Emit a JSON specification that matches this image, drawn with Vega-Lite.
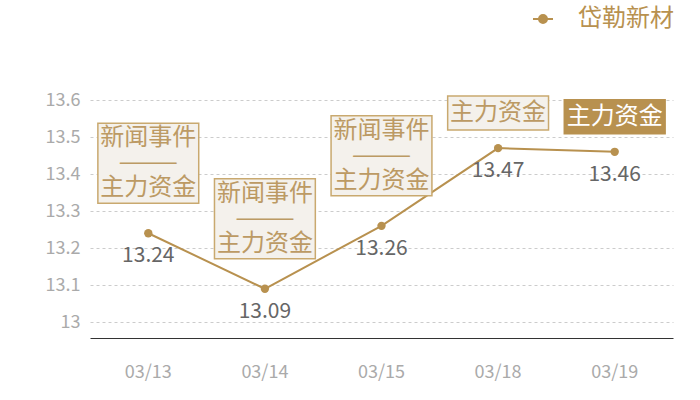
{
  "$schema": "https://vega.github.io/schema/vega-lite/v6.json",
  "width": 583,
  "height": 238,
  "autosize": {"type": "none"},
  "padding": {"left": 90, "top": 100, "right": 27, "bottom": 62},
  "background": "white",
  "config": {
    "font": "Noto Sans CJK SC",
    "view": {"stroke": null}
  },
  "data": {
    "values": [
      {"date": "03/13", "value": 13.24, "name": "岱勒新材", "kind": "double", "note": "新闻事件\n———\n主力资金"},
      {"date": "03/14", "value": 13.09, "name": "岱勒新材", "kind": "double", "note": "新闻事件\n———\n主力资金"},
      {"date": "03/15", "value": 13.26, "name": "岱勒新材", "kind": "double", "note": "新闻事件\n———\n主力资金"},
      {"date": "03/18", "value": 13.47, "name": "岱勒新材", "kind": "single", "note": "主力资金"},
      {"date": "03/19", "value": 13.46, "name": "岱勒新材", "kind": "latest", "note": "主力资金"}
    ]
  },
  "encoding": {
    "x": {
      "field": "date", "type": "ordinal",
      "scale": {"paddingInner": 0, "paddingOuter": 0},
      "axis": {
        "title": null, "labelAngle": 0, "ticks": false, "grid": false,
        "domainColor": "#333333", "domainWidth": 1,
        "labelFontSize": 18, "labelColor": "#aaaaaa", "labelPadding": 25
      }
    },
    "y": {
      "field": "value", "type": "quantitative",
      "scale": {"domain": [12.957, 13.6], "nice": false, "zero": false},
      "axis": {
        "title": null, "values": [13, 13.1, 13.2, 13.3, 13.4, 13.5, 13.6],
        "format": "~g", "domain": false, "ticks": false,
        "grid": true, "gridDash": [3, 3], "gridColor": "#cccccc",
        "labelFontSize": 18, "labelColor": "#aaaaaa", "labelPadding": 10
      }
    }
  },
  "layer": [
    {
      "mark": {"type": "line", "color": "#b8914f", "strokeWidth": 2},
      "encoding": {
        "color": {
          "field": "name", "type": "nominal",
          "scale": {"range": ["#b8914f"]},
          "legend": {
            "title": null, "orient": "none", "legendX": 441, "legendY": -93,
            "symbolType": "M-1,0H-0.4M0.4,0H1M-0.4,0A0.4,0.4 0 1,1 0.4,0A0.4,0.4 0 1,1 -0.4,0Z",
            "symbolSize": 400, "symbolStrokeWidth": 2, "symbolFillColor": "#b8914f", "symbolStrokeColor": "#b8914f",
            "labelFontSize": 24, "labelColor": "#b8914f", "labelOffset": 23, "labelLimit": 200
          }
        }
      }
    },
    {
      "mark": {"type": "point", "filled": true, "size": 70, "color": "#b8914f", "opacity": 1}
    },
    {
      "mark": {"type": "text", "dy": 23, "baseline": "middle", "fontSize": 21, "color": "#666666"},
      "encoding": {"text": {"field": "value", "type": "quantitative", "format": ".2f"}}
    },
    {
      "transform": [{"filter": "datum.kind === 'double'"}],
      "mark": {"type": "rect", "width": {"band": 0.865}, "yOffset": -30, "y2Offset": -110, "fill": "#f4f1ec", "stroke": "#c9a96f", "strokeWidth": 1.5},
      "encoding": {"y2": {"field": "value"}}
    },
    {
      "transform": [{"filter": "datum.kind === 'single'"}],
      "mark": {"type": "rect", "width": {"band": 0.865}, "yOffset": -18, "y2Offset": -52, "fill": "#f4f1ec", "stroke": "#c9a96f", "strokeWidth": 1.5},
      "encoding": {"y2": {"field": "value"}}
    },
    {
      "transform": [{"filter": "datum.kind === 'latest'"}],
      "mark": {"type": "rect", "width": {"band": 0.865}, "yOffset": -18, "y2Offset": -52, "fill": "#b8914f", "stroke": "#b8914f", "strokeWidth": 1.5},
      "encoding": {"y2": {"field": "value"}}
    },
    {
      "transform": [{"filter": "datum.kind === 'double'"}],
      "mark": {"type": "text", "dy": -95, "baseline": "middle", "lineBreak": "\n", "lineHeight": 25, "fontSize": 24, "color": "#bc9a64"},
      "encoding": {"text": {"field": "note"}}
    },
    {
      "transform": [{"filter": "datum.kind === 'single'"}],
      "mark": {"type": "text", "dy": -35, "baseline": "middle", "fontSize": 24, "color": "#bc9a64"},
      "encoding": {"text": {"field": "note"}}
    },
    {
      "transform": [{"filter": "datum.kind === 'latest'"}],
      "mark": {"type": "text", "dy": -35, "baseline": "middle", "fontSize": 24, "color": "#ffffff"},
      "encoding": {"text": {"field": "note"}}
    }
  ]
}
